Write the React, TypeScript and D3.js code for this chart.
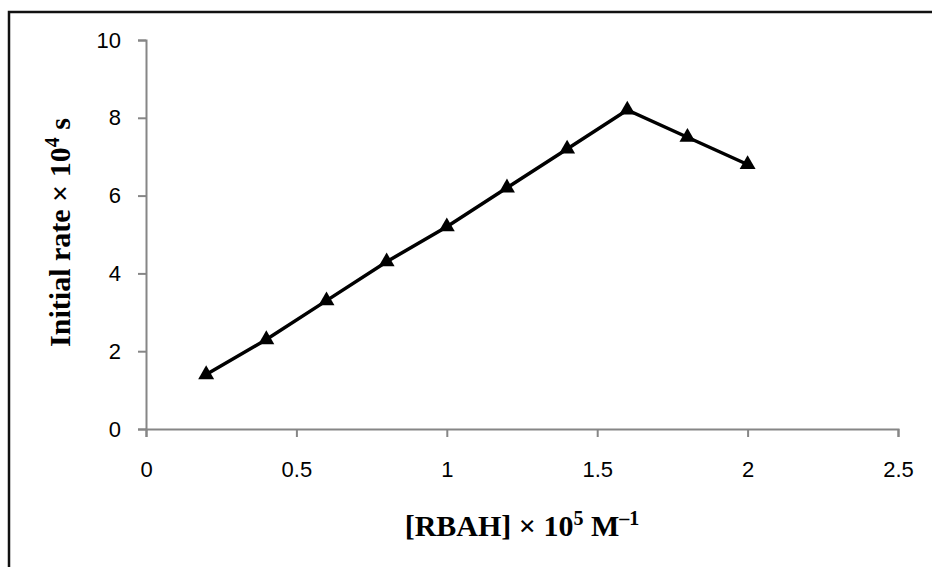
import React, { useRef, useEffect } from 'react';
import * as d3 from 'd3';

const concentration = [0.2, 0.4, 0.6, 0.8, 1.0, 1.2, 1.4, 1.6, 1.8, 2.0];
const initialRate = [1.4, 2.3, 3.3, 4.3, 5.2, 6.2, 7.2, 8.2, 7.5, 6.8];
const xTicks = [0, 0.5, 1, 1.5, 2, 2.5];
const yTicks = [0, 2, 4, 6, 8, 10];

const App = () => {
  const ref = useRef<SVGGElement>(null);
  const width = 932;
  const height = 567;

  useEffect(() => {
    const g = d3.select(ref.current);
    g.selectAll('*').remove();

    const margin = { top: 40, right: 34, bottom: 138, left: 146 };
    const innerWidth = width - margin.left - margin.right;
    const innerHeight = height - margin.top - margin.bottom;

    const xScale = d3.scaleLinear().domain([0, 2.5]).range([0, innerWidth]);
    const yScale = d3.scaleLinear().domain([0, 10]).range([innerHeight, 0]);

    // frame around the picture
    g.append('path')
      .attr('d', `M9,${height} V12 H${width}`)
      .attr('fill', 'none')
      .attr('stroke', '#111')
      .attr('stroke-width', 2.5);

    const plot = g.append('g').attr('transform', `translate(${margin.left}, ${margin.top})`);

    const xAxis = plot
      .append('g')
      .attr('transform', `translate(0, ${innerHeight})`)
      .call(
        d3.axisBottom(xScale)
          .tickValues(xTicks)
          .tickSize(8)
          .tickPadding(24)
          .tickFormat(d => String(d))
      );

    const yAxis = plot
      .append('g')
      .call(
        d3.axisLeft(yScale)
          .tickValues(yTicks)
          .tickSize(8)
          .tickPadding(17)
          .tickFormat(d => String(d))
      );

    [xAxis, yAxis].forEach(ax => {
      ax.select('.domain').attr('stroke', '#868686').attr('stroke-width', 2);
      ax.selectAll('.tick line').attr('stroke', '#868686').attr('stroke-width', 2);
      ax.selectAll('.tick text')
        .attr('fill', '#000')
        .style('font-family', '"Liberation Sans", Arial, sans-serif')
        .style('font-size', '22px');
    });

    const points = concentration.map((c, i) => ({ x: c, y: initialRate[i] }));

    const line = d3
      .line<{ x: number; y: number }>()
      .x(d => xScale(d.x))
      .y(d => yScale(d.y));

    plot.append('path')
      .datum(points)
      .attr('d', line)
      .attr('fill', 'none')
      .attr('stroke', '#000')
      .attr('stroke-width', 3.5);

    plot.selectAll('path.marker')
      .data(points)
      .enter()
      .append('path')
      .attr('class', 'marker')
      .attr('d', d3.symbol().type(d3.symbolTriangle).size(110))
      .attr('transform', d => `translate(${xScale(d.x)}, ${yScale(d.y)})`)
      .attr('fill', '#000');

    // axis titles
    const xTitle = g.append('text')
      .attr('x', margin.left + innerWidth / 2)
      .attr('y', 536)
      .attr('text-anchor', 'middle')
      .style('font-family', '"Liberation Serif", "Times New Roman", serif')
      .style('font-weight', 'bold')
      .style('font-size', '30px');
    xTitle.append('tspan').text('[RBAH] × 10');
    xTitle.append('tspan').attr('dy', -11).style('font-size', '20px').text('5');
    xTitle.append('tspan').attr('dy', 11).text(' M');
    xTitle.append('tspan').attr('dy', -11).style('font-size', '20px').text('–1');

    const yTitle = g.append('text')
      .attr('transform', `translate(70, ${margin.top + innerHeight / 2 - 2}) rotate(-90)`)
      .attr('text-anchor', 'middle')
      .style('font-family', '"Liberation Serif", "Times New Roman", serif')
      .style('font-weight', 'bold')
      .style('font-size', '30px');
    yTitle.append('tspan').text('Initial rate × 10');
    yTitle.append('tspan').attr('dy', -11).style('font-size', '20px').text('4');
    yTitle.append('tspan').attr('dy', 11).text(' s');
  }, []);

  return (
    <svg width={width} height={height} style={{ position: 'absolute', left: 0, top: 0, background: '#fff' }}>
      <g ref={ref} />
    </svg>
  );
};

export default App;
